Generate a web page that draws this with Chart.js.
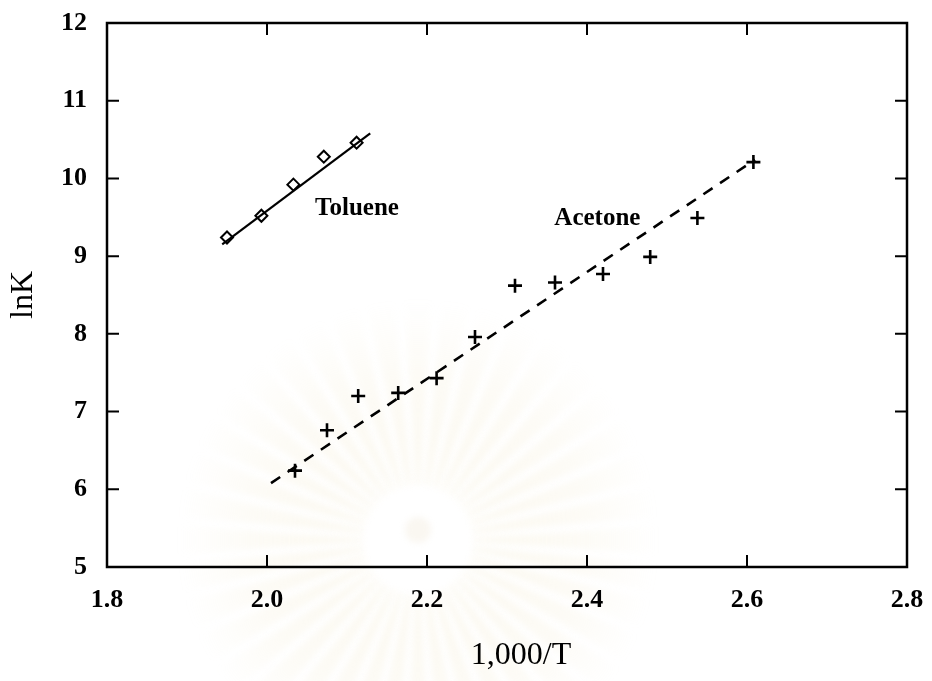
<!DOCTYPE html>
<html>
<head>
<meta charset="utf-8">
<title>lnK vs 1,000/T</title>
<script src="https://cdn.jsdelivr.net/npm/chart.js@4/dist/chart.umd.min.js"></script>
<style>
    html, body { margin: 0; padding: 0; background: #fff; }
    #wrap { width: 932px; height: 681px; position: relative; }
</style>
</head>
<body>
<div id="wrap"><canvas id="lnkChart"></canvas></div>
<script>
// Measured points (x = 1,000/T, y = lnK)
const tolueneX = [1.950, 1.993, 2.033, 2.071, 2.112];
const tolueneY = [9.24, 9.52, 9.92, 10.28, 10.46];

const acetoneX = [2.035, 2.075, 2.114, 2.164, 2.212, 2.260, 2.310, 2.360, 2.420, 2.479, 2.538, 2.608];
const acetoneY = [6.24, 6.76, 7.20, 7.24, 7.43, 7.96, 8.62, 8.66, 8.77, 8.99, 9.49, 10.21];

// Fitted straight lines (end points)
const tolueneFitX = [1.944, 2.129];
const tolueneFitY = [9.15, 10.58];
const acetoneFitX = [2.005, 2.610];
const acetoneFitY = [6.08, 10.24];

// Axis ticks
const xTicks = [1.8, 2.0, 2.2, 2.4, 2.6, 2.8];
const yTicks = [5, 6, 7, 8, 9, 10, 11, 12];

// Curve labels, placed in data coordinates
const curveLabels = ['Toluene', 'Acetone'];
const curveLabelX = [2.1125, 2.413];
const curveLabelY = [9.525, 9.397];

const xTitle = '1,000/T';
const yTitle = 'lnK';

const toPoints = (xs, ys) => xs.map((x, i) => ({ x: x, y: ys[i] }));

const serif = "'Liberation Serif', 'DejaVu Serif', serif";

// Faint stamp behind the plot
const stampPlugin = {
    id: 'stamp',
    beforeDraw(chart) {
        const ctx = chart.ctx;
        const cx = 418, cy = 540;
        const rays = 40;
        ctx.save();
        ctx.filter = 'blur(3px)';
        for (let i = 0; i < rays; i++) {
            const a = (i / rays) * Math.PI * 2;
            const w = Math.PI / rays * 0.75;
            const r0 = 55, r1 = 240;
            const g = ctx.createRadialGradient(cx, cy, r0, cx, cy, r1);
            g.addColorStop(0, 'rgba(240, 228, 190, 0.24)');
            g.addColorStop(0.6, 'rgba(240, 228, 190, 0.14)');
            g.addColorStop(1, 'rgba(240, 228, 190, 0.0)');
            ctx.fillStyle = g;
            ctx.beginPath();
            ctx.moveTo(cx + Math.cos(a - w * 0.5) * r0, cy + Math.sin(a - w * 0.5) * r0);
            ctx.lineTo(cx + Math.cos(a - w) * r1, cy + Math.sin(a - w) * r1);
            ctx.lineTo(cx + Math.cos(a + w) * r1, cy + Math.sin(a + w) * r1);
            ctx.lineTo(cx + Math.cos(a + w * 0.5) * r0, cy + Math.sin(a + w * 0.5) * r0);
            ctx.closePath();
            ctx.fill();
        }
        ctx.fillStyle = 'rgba(236, 228, 206, 0.28)';
        ctx.beginPath();
        ctx.arc(cx, cy - 10, 13, 0, Math.PI * 2);
        ctx.fill();
        ctx.restore();
    }
};

// Box frame with inward ticks on all four sides
const framePlugin = {
    id: 'frame',
    afterDatasetsDraw(chart) {
        const { ctx, chartArea: a, scales } = chart;
        const tick = 12;
        ctx.save();
        ctx.strokeStyle = '#000';
        ctx.lineWidth = 2;
        ctx.beginPath();
        scales.x.ticks.forEach(t => {
            const px = scales.x.getPixelForValue(t.value);
            ctx.moveTo(px, a.bottom); ctx.lineTo(px, a.bottom - tick);
            ctx.moveTo(px, a.top); ctx.lineTo(px, a.top + tick);
        });
        scales.y.ticks.forEach(t => {
            const py = scales.y.getPixelForValue(t.value);
            ctx.moveTo(a.left, py); ctx.lineTo(a.left + tick, py);
            ctx.moveTo(a.right, py); ctx.lineTo(a.right - tick, py);
        });
        ctx.stroke();
        ctx.lineWidth = 2.5;
        ctx.strokeRect(a.left, a.top, a.right - a.left, a.bottom - a.top);
        ctx.restore();
    }
};

// Curve names and axis titles
const textPlugin = {
    id: 'texts',
    afterDraw(chart) {
        const { ctx, chartArea: a, scales } = chart;
        ctx.save();
        ctx.fillStyle = '#000';
        ctx.textAlign = 'center';
        ctx.textBaseline = 'alphabetic';
        ctx.font = 'bold 25px ' + serif;
        curveLabels.forEach((txt, i) => {
            ctx.fillText(txt, scales.x.getPixelForValue(curveLabelX[i]), scales.y.getPixelForValue(curveLabelY[i]));
        });

        ctx.font = '32px ' + serif;
        ctx.textBaseline = 'middle';
        ctx.fillText(xTitle, 521, 656);

        ctx.translate(24, (a.top + a.bottom) / 2);
        ctx.rotate(-Math.PI / 2);
        ctx.fillText(yTitle, 0, 0);
        ctx.restore();
    }
};

new Chart(document.getElementById('lnkChart'), {
    type: 'scatter',
    data: {
        datasets: [
            {
                label: 'Toluene fit',
                data: toPoints(tolueneFitX, tolueneFitY),
                showLine: true,
                borderColor: '#000',
                borderWidth: 2.2,
                pointRadius: 0,
                order: 2
            },
            {
                label: 'Acetone fit',
                data: toPoints(acetoneFitX, acetoneFitY),
                showLine: true,
                borderColor: '#000',
                borderWidth: 2.6,
                borderDash: [11, 9],
                pointRadius: 0,
                order: 2
            },
            {
                label: 'Toluene',
                data: toPoints(tolueneX, tolueneY),
                pointStyle: 'rectRot',
                pointRadius: 6,
                borderColor: '#000',
                backgroundColor: 'rgba(0,0,0,0)',
                borderWidth: 2,
                order: 1
            },
            {
                label: 'Acetone',
                data: toPoints(acetoneX, acetoneY),
                pointStyle: 'cross',
                pointRadius: 7,
                borderColor: '#000',
                borderWidth: 2.6,
                order: 1
            }
        ]
    },
    options: {
        responsive: true,
        maintainAspectRatio: false,
        animation: false,
        layout: {
            padding: { top: 23, right: 25, left: 0, bottom: 0 }
        },
        plugins: {
            legend: { display: false },
            tooltip: { enabled: false }
        },
        scales: {
            x: {
                type: 'linear',
                min: 1.8,
                max: 2.8,
                afterFit: s => {
                    s.height = 114;
                    s.paddingLeft = 0;
                    s.paddingRight = 0;
                },
                afterBuildTicks: s => { s.ticks = xTicks.map(v => ({ value: v })); },
                ticks: {
                    color: '#000',
                    padding: 18,
                    font: { family: serif, size: 26, weight: 'bold' },
                    callback: v => v.toFixed(1)
                },
                grid: { display: false, drawTicks: false },
                border: { display: false }
            },
            y: {
                type: 'linear',
                min: 5,
                max: 12,
                afterFit: s => {
                    s.width = 107;
                    s.paddingTop = 0;
                    s.paddingBottom = 0;
                },
                afterBuildTicks: s => { s.ticks = yTicks.map(v => ({ value: v })); },
                ticks: {
                    color: '#000',
                    padding: 20,
                    font: { family: serif, size: 26, weight: 'bold' }
                },
                grid: { display: false, drawTicks: false },
                border: { display: false }
            }
        }
    },
    plugins: [stampPlugin, framePlugin, textPlugin]
});
</script>
</body>
</html>
